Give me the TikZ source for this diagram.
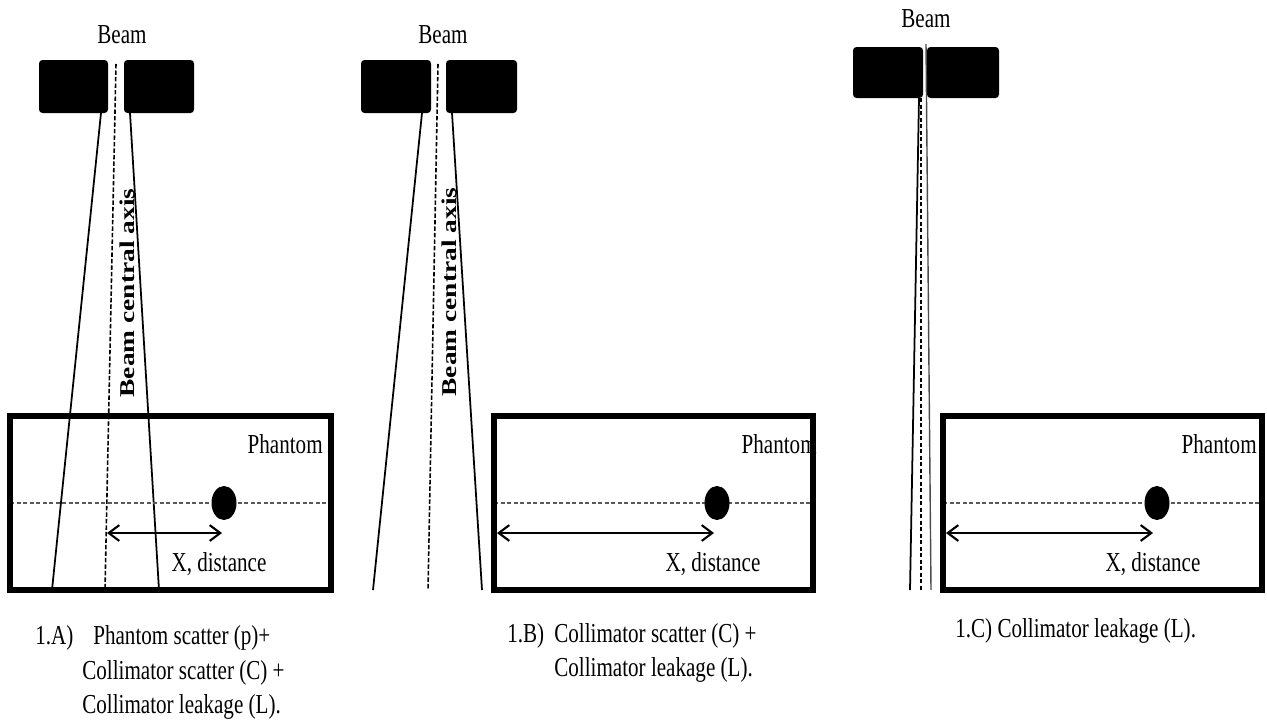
\documentclass[tikz,border=0pt]{standalone}
\usepackage{fontspec}
\setmainfont{Liberation Serif}
\usetikzlibrary{arrows.meta}

\begin{document}
\begin{tikzpicture}[x=0.02cm, y=-0.02cm,
    txt/.style={font=\fontsize{12}{14}\selectfont, inner sep=0pt, yscale=1.3, transform shape},
    txtb/.style={txt, font=\fontsize{12}{14}\selectfont\bfseries},
    jaw/.style={fill=black, rounded corners=2pt},
    ray/.style={line width=1pt},
    cax/.style={line width=0.9pt, dash pattern=on 2.5pt off 1.2pt},
    mid/.style={gray!70!black, line width=1.1pt, dash pattern=on 2.5pt off 1.2pt},
    phantom/.style={line width=3pt},
    dist/.style={line width=1.2pt, {Straight Barb[length=6pt,width=9pt]}-{Straight Barb[length=6pt,width=9pt]}}]
    \useasboundingbox (0,0) rectangle (1267,724);

    % 1.A
    \node[txt, anchor=base] (beamA) at (122,43) {Beam};
    \fill[jaw] (39,60) rectangle (108,113);
    \fill[jaw] (124,60) rectangle (194,113);
    \draw[cax] (116,64) -- (105,590);
    \draw[ray] (101,113) -- (52,590);
    \draw[ray] (130,113) -- (159,590);
    \node[txtb, rotate=90] (axisA) at (127,293) {Beam central axis};
    \node[txt, anchor=base east] (phA) at (323,453) {Phantom};
    \draw[mid] (10,503) -- (331,503);
    \coordinate (dotA) at (224,503);
    \fill (dotA) ellipse [x radius=12.5, y radius=17];
    \coordinate (xa1) at (107,533);
    \coordinate (xa2) at (222,533);
    \draw[dist] (xa1) -- (xa2);
    \node[txt, anchor=base] (xA) at (219,571) {X, distance};
    \draw[phantom] (10,416) rectangle (331,590);
    \node[txt, anchor=base west] (capA) at (35,644) {1.A)};
    \node[txt, anchor=base west] (capA1) at (93,644) {Phantom scatter (p)+};
    \node[txt, anchor=base west] (capA2) at (82,679) {Collimator scatter (C) +};
    \node[txt, anchor=base west] (capA3) at (82,713) {Collimator leakage (L).};

    % 1.B
    \node[txt, anchor=base] (beamB) at (443,43) {Beam};
    \fill[jaw] (361,60) rectangle (431,113);
    \fill[jaw] (446,60) rectangle (517,113);
    \draw[cax] (438,64) -- (428,590);
    \draw[ray] (422,113) -- (373,590);
    \draw[ray] (452,113) -- (482,590);
    \node[txtb, rotate=90] (axisB) at (449,292) {Beam central axis};
    \node[txt, anchor=base east] (phB) at (817,453) {Phantom};
    \draw[mid] (494,503) -- (813,503);
    \coordinate (dotB) at (717,503);
    \fill (dotB) ellipse [x radius=12.5, y radius=17];
    \coordinate (xb1) at (497,533);
    \coordinate (xb2) at (714,533);
    \draw[dist] (xb1) -- (xb2);
    \node[txt, anchor=base] (xB) at (713,571) {X, distance};
    \draw[phantom] (494,416) rectangle (813,590);
    \node[txt, anchor=base west] (capB) at (507,642) {1.B)};
    \node[txt, anchor=base west] (capB1) at (554,642) {Collimator scatter (C) +};
    \node[txt, anchor=base west] (capB2) at (554,676) {Collimator leakage (L).};

    % 1.C
    \node[txt, anchor=base] (beamC) at (926,27) {Beam};
    \fill[jaw] (853,47) rectangle (923,98);
    \fill[jaw] (927,47) rectangle (999,98);
    \draw[ray] (919,98) -- (910,590);
    \draw[cax, line width=0.8pt] (921,98) -- (921,590);
    \draw[gray!60!black, line width=0.8pt] (926,44) -- (931,590);
    \node[txt, anchor=base east] (phC) at (1257,453) {Phantom};
    \draw[mid] (943,503) -- (1262,503);
    \coordinate (dotC) at (1157,503);
    \fill (dotC) ellipse [x radius=12.5, y radius=17];
    \coordinate (xc1) at (946,533);
    \coordinate (xc2) at (1153,533);
    \draw[dist] (xc1) -- (xc2);
    \node[txt, anchor=base] (xC) at (1153,571) {X, distance};
    \draw[phantom] (943,416) rectangle (1262,590);
    \node[txt, anchor=base west] (capC) at (955,637) {1.C) Collimator leakage (L).};
\end{tikzpicture}
\end{document}
